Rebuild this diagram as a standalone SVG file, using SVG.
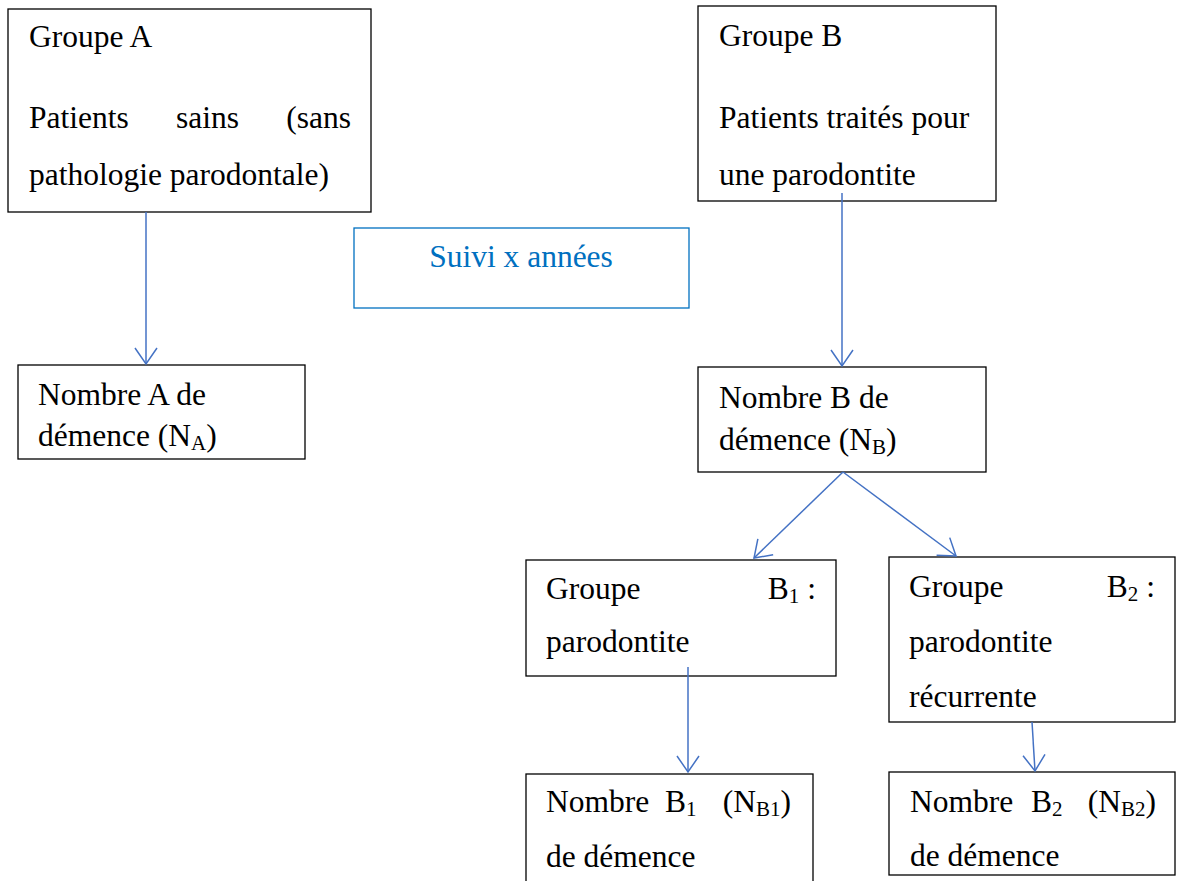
<svg xmlns="http://www.w3.org/2000/svg" width="1178" height="881" viewBox="0 0 1178 881">
<style>
.box{fill:#fff;stroke:#000;stroke-width:1.3}
.sbox{fill:#fff;stroke:#0070C0;stroke-width:1.3}
.t{font-family:"Liberation Serif","Times New Roman",serif;font-size:31.5px;fill:#000}
.b{fill:#0070C0}
.sub{font-size:21px}
.c{fill:none;stroke:#4472C4;stroke-width:1.5}
</style>
<defs>
<marker id="ah" markerUnits="userSpaceOnUse" markerWidth="40" markerHeight="40" viewBox="-20 -20 40 40" refX="0" refY="0" orient="auto">
<path d="M-16,-11 L0,0 L-16,11" fill="none" stroke="#4472C4" stroke-width="1.5"/>
</marker>
</defs>
<rect width="1178" height="881" fill="#fff"/>
<g id="groupeA">
<rect class="box" x="8" y="9" width="363" height="203"/>
<text class="t" x="29" y="47">Groupe A</text>
<text class="t" x="29" y="128">Patients</text>
<text class="t" x="176" y="128">sains</text>
<text class="t" x="351" y="128" text-anchor="end">(sans</text>
<text class="t" x="29" y="185">pathologie parodontale)</text>
</g>
<g id="groupeB">
<rect class="box" x="698" y="6" width="298" height="195"/>
<text class="t" x="719" y="46">Groupe B</text>
<text class="t" x="719" y="128">Patients traités pour</text>
<text class="t" x="719" y="185">une parodontite</text>
</g>
<g id="suivi">
<rect class="sbox" x="354" y="228" width="335" height="80"/>
<text class="t b" x="521" y="267" text-anchor="middle">Suivi x années</text>
</g>
<g id="nombreA">
<rect class="box" x="18" y="365" width="287" height="94"/>
<text class="t" x="38" y="405">Nombre A de</text>
<text class="t" x="38" y="446">démence (N<tspan class="sub" dy="4">A</tspan><tspan dy="-4">)</tspan></text>
</g>
<g id="nombreB">
<rect class="box" x="698" y="367" width="288" height="105"/>
<text class="t" x="719" y="408">Nombre B de</text>
<text class="t" x="719" y="450">démence (N<tspan class="sub" dy="4">B</tspan><tspan dy="-4">)</tspan></text>
</g>
<g id="groupeB1">
<rect class="box" x="526" y="560" width="310" height="116"/>
<text class="t" x="546" y="599">Groupe</text>
<text class="t" x="816" y="599" text-anchor="end">B<tspan class="sub" dy="4">1</tspan><tspan dy="-4"> :</tspan></text>
<text class="t" x="546" y="652">parodontite</text>
</g>
<g id="groupeB2">
<rect class="box" x="889" y="557" width="286" height="165"/>
<text class="t" x="909" y="597">Groupe</text>
<text class="t" x="1155" y="597" text-anchor="end">B<tspan class="sub" dy="4">2</tspan><tspan dy="-4"> :</tspan></text>
<text class="t" x="909" y="652">parodontite</text>
<text class="t" x="909" y="707">récurrente</text>
</g>
<g id="nombreB1">
<rect class="box" x="526" y="774" width="287" height="120"/>
<text class="t" x="546" y="812">Nombre</text>
<text class="t" x="665" y="812">B<tspan class="sub" dy="4">1</tspan></text>
<text class="t" x="791" y="812" text-anchor="end">(N<tspan class="sub" dy="4">B1</tspan><tspan dy="-4">)</tspan></text>
<text class="t" x="546" y="867">de démence</text>
</g>
<g id="nombreB2">
<rect class="box" x="889" y="772" width="286" height="103"/>
<text class="t" x="910" y="812">Nombre</text>
<text class="t" x="1031" y="812">B<tspan class="sub" dy="4">2</tspan></text>
<text class="t" x="1156" y="812" text-anchor="end">(N<tspan class="sub" dy="4">B2</tspan><tspan dy="-4">)</tspan></text>
<text class="t" x="910" y="866">de démence</text>
</g>
<g id="connectors">
<line class="c" x1="146" y1="212" x2="146" y2="364" marker-end="url(#ah)"/>
<line class="c" x1="842" y1="193" x2="842" y2="366" marker-end="url(#ah)"/>
<line class="c" x1="843" y1="472" x2="754" y2="558" marker-end="url(#ah)"/>
<line class="c" x1="843" y1="472" x2="956" y2="556" marker-end="url(#ah)"/>
<line class="c" x1="688" y1="667" x2="688" y2="772" marker-end="url(#ah)"/>
<line class="c" x1="1032" y1="722" x2="1035" y2="771" marker-end="url(#ah)"/>
</g>
</svg>
